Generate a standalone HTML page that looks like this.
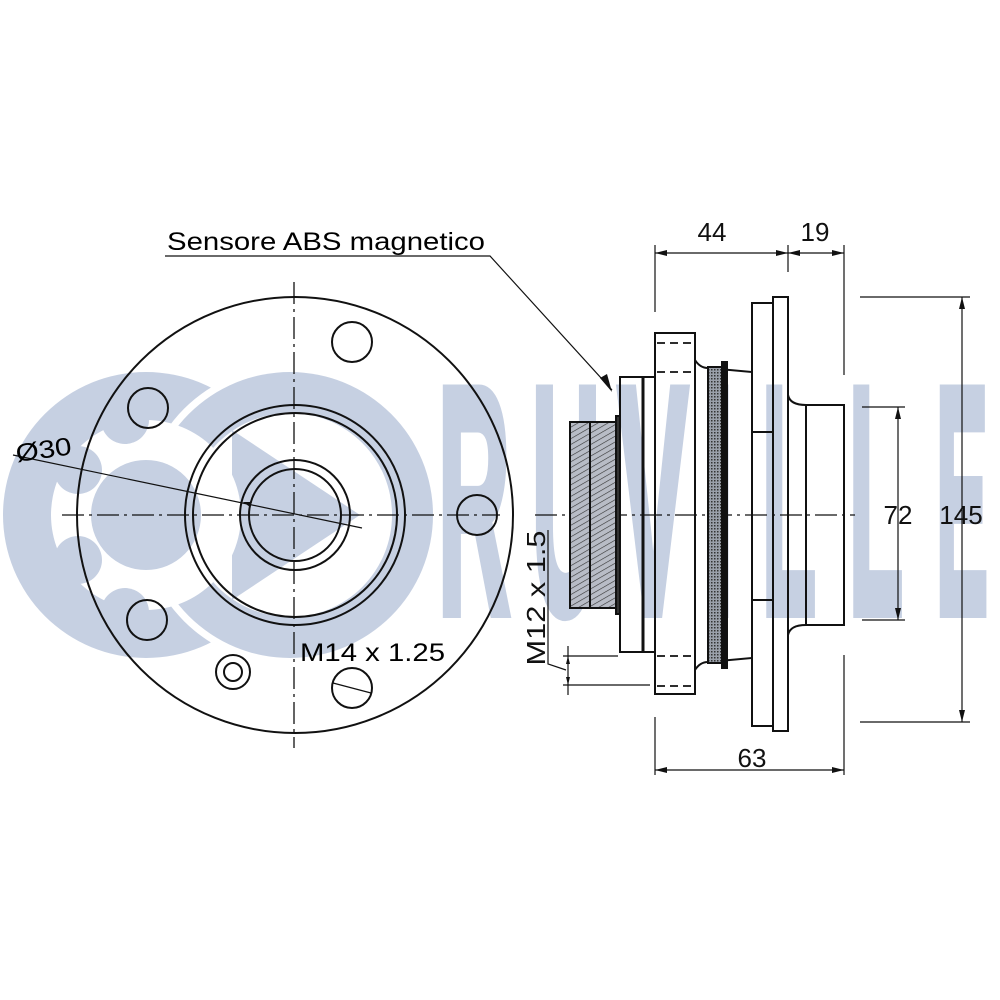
<!DOCTYPE html>
<html><head><meta charset="utf-8"><style>html,body{margin:0;padding:0;background:#fff}svg{display:block}</style></head>
<body>
<svg width="1000" height="1000" viewBox="0 0 1000 1000" xmlns="http://www.w3.org/2000/svg" font-family="Liberation Sans, Arial, sans-serif">
<defs>
<pattern id="h1" width="5" height="5" patternUnits="userSpaceOnUse" patternTransform="rotate(60)"><rect width="5" height="5" fill="#b8bcc6"/><line x1="0" y1="0" x2="0" y2="5" stroke="#333" stroke-width="1.2"/></pattern>
<pattern id="h2" width="3" height="3" patternUnits="userSpaceOnUse"><rect width="3" height="3" fill="#9aa0aa"/><rect width="1.5" height="1.5" fill="#333"/></pattern>
</defs>
<!-- logo -->
<g fill="#c6d0e2">
<circle cx="146" cy="515" r="143"/>
<circle cx="290" cy="515" r="150" fill="#fff"/>
<circle cx="290" cy="515" r="143"/>
<circle cx="290" cy="515" r="102" fill="#fff"/>
<polygon points="232,430 360,515 232,600"/>
<circle cx="146" cy="515" r="95" fill="#fff"/>
<circle cx="146" cy="515" r="55"/>
<circle cx="78" cy="470" r="24"/><circle cx="78" cy="560" r="24"/>
<circle cx="125" cy="420" r="24"/><circle cx="125" cy="612" r="24"/>
<g font-size="322" font-weight="bold" stroke="#c6d0e2" stroke-width="12" stroke-linejoin="miter">
<text x="438" y="612" textLength="72" lengthAdjust="spacingAndGlyphs">R</text>
<text x="532" y="612" textLength="68" lengthAdjust="spacingAndGlyphs">U</text>
<text x="618" y="612" textLength="70" lengthAdjust="spacingAndGlyphs">V</text>
<text x="707" y="612" textLength="26" lengthAdjust="spacingAndGlyphs">I</text>
<text x="762" y="612" textLength="54" lengthAdjust="spacingAndGlyphs">L</text>
<text x="849" y="612" textLength="54" lengthAdjust="spacingAndGlyphs">L</text>
<text x="936" y="612" textLength="52" lengthAdjust="spacingAndGlyphs">E</text>
</g>
</g>
<!-- left view -->
<g fill="none" stroke="#111" stroke-width="2">
<circle cx="295" cy="515" r="218"/>
<circle cx="295" cy="515" r="110"/>
<circle cx="295" cy="515" r="102"/>
<circle cx="295" cy="515" r="55"/>
<circle cx="295" cy="515" r="46"/>
<circle cx="352" cy="342" r="20"/>
<circle cx="148" cy="408" r="20"/>
<circle cx="147" cy="620" r="20"/>
<circle cx="477" cy="515" r="20"/>
<circle cx="352" cy="688" r="20"/>
<circle cx="233" cy="672" r="17"/>
<circle cx="233" cy="672" r="9"/>
</g>
<line x1="333" y1="683" x2="371" y2="693" stroke="#111" stroke-width="1.3"/>
<g stroke="#111" stroke-width="1.3" stroke-dasharray="22,5,3,5" fill="none">
<line x1="294" y1="282" x2="294" y2="748"/>
<line x1="62" y1="515" x2="500" y2="515"/>
<line x1="535" y1="515" x2="855" y2="515"/>
</g>
<line x1="13" y1="455" x2="362" y2="528" stroke="#111" stroke-width="1.2"/>
<polygon points="243,502 252,502 250,507" fill="#111"/>
<text x="17" y="462" font-size="25" textLength="56" lengthAdjust="spacingAndGlyphs" transform="rotate(-8 17 462)">Ø30</text>
<text x="300" y="661" font-size="25" textLength="145" lengthAdjust="spacingAndGlyphs">M14 x 1.25</text>
<text x="167" y="250" font-size="25" textLength="318" lengthAdjust="spacingAndGlyphs">Sensore ABS magnetico</text>
<polyline points="165,256 490,256 612,390" fill="none" stroke="#111" stroke-width="1.2"/>
<polygon points="612,392 600,378 607,374" fill="#111"/>
<!-- right view -->
<g stroke="#111" stroke-width="2" fill="none">
<rect x="570" y="422" width="46" height="186" fill="url(#h1)"/>
<line x1="590" y1="422" x2="590" y2="608"/>
<rect x="616" y="416" width="4" height="198" fill="#333"/>
<rect x="620" y="377" width="35" height="275"/>
<line x1="643" y1="377" x2="643" y2="652" stroke-width="3"/>
<path d="M695,360 Q700,368 708,368 L752,372 L752,658 L708,662 Q700,662 695,670 Z"/>
<rect x="708" y="367" width="14" height="296" fill="url(#h2)"/>
<rect x="722" y="362" width="5" height="306" fill="#111"/>
<rect x="655" y="333" width="40" height="361"/>
<path d="M788,395 Q790,405 806,405 L844,405 L844,625 L806,625 Q790,625 788,635 Z"/>
<line x1="806" y1="405" x2="806" y2="625"/>
<rect x="752" y="303" width="21" height="423"/>
<rect x="773" y="297" width="15" height="434"/>
<polyline points="752,432 773,432"/>
<polyline points="752,600 773,600"/>
</g>
<g stroke="#111" stroke-width="1.8" stroke-dasharray="8,5">
<line x1="657" y1="343" x2="693" y2="343"/><line x1="657" y1="372" x2="693" y2="372"/>
<line x1="657" y1="656" x2="693" y2="656"/><line x1="657" y1="686" x2="693" y2="686"/>
</g>
<!-- dimensions -->
<g stroke="#111" stroke-width="1.2" fill="none">
<line x1="655" y1="245" x2="655" y2="312"/>
<line x1="788" y1="245" x2="788" y2="272"/>
<line x1="844" y1="245" x2="844" y2="375"/>
<line x1="844" y1="655" x2="844" y2="775"/>
<line x1="655" y1="717" x2="655" y2="775"/>
<line x1="655" y1="253" x2="844" y2="253"/>
<line x1="655" y1="770" x2="844" y2="770"/>
<line x1="860" y1="297" x2="970" y2="297"/>
<line x1="860" y1="722" x2="970" y2="722"/>
<line x1="962" y1="297" x2="962" y2="722"/>
<line x1="862" y1="407" x2="905" y2="407"/>
<line x1="862" y1="620" x2="905" y2="620"/>
<line x1="898" y1="407" x2="898" y2="620"/>
<line x1="563" y1="656" x2="618" y2="656"/>
<line x1="563" y1="685" x2="650" y2="685"/>
<line x1="568" y1="646" x2="568" y2="695"/>
<polyline points="548,530 548,664 566,670"/>
</g>
<g fill="#111">
<polygon points="655,253 667,250 667,256"/><polygon points="788,253 776,250 776,256"/>
<polygon points="788,253 800,250 800,256"/><polygon points="844,253 832,250 832,256"/>
<polygon points="655,770 667,767 667,773"/><polygon points="844,770 832,767 832,773"/>
<polygon points="962,297 959,309 965,309"/><polygon points="962,722 959,710 965,710"/>
<polygon points="898,407 895,419 901,419"/><polygon points="898,620 895,608 901,608"/>
<polygon points="568,656 566,664 570,664"/><polygon points="568,685 566,677 570,677"/>
</g>
<g font-size="26" text-anchor="middle" fill="#111">
<text x="712" y="241">44</text>
<text x="815" y="241">19</text>
<text x="752" y="767">63</text>
<text x="898" y="524">72</text>
<text x="961" y="524">145</text>
<text x="0" y="0" transform="translate(545,598) rotate(-90)" textLength="135" lengthAdjust="spacingAndGlyphs">M12 x 1.5</text>
</g>
</svg>
</body></html>
